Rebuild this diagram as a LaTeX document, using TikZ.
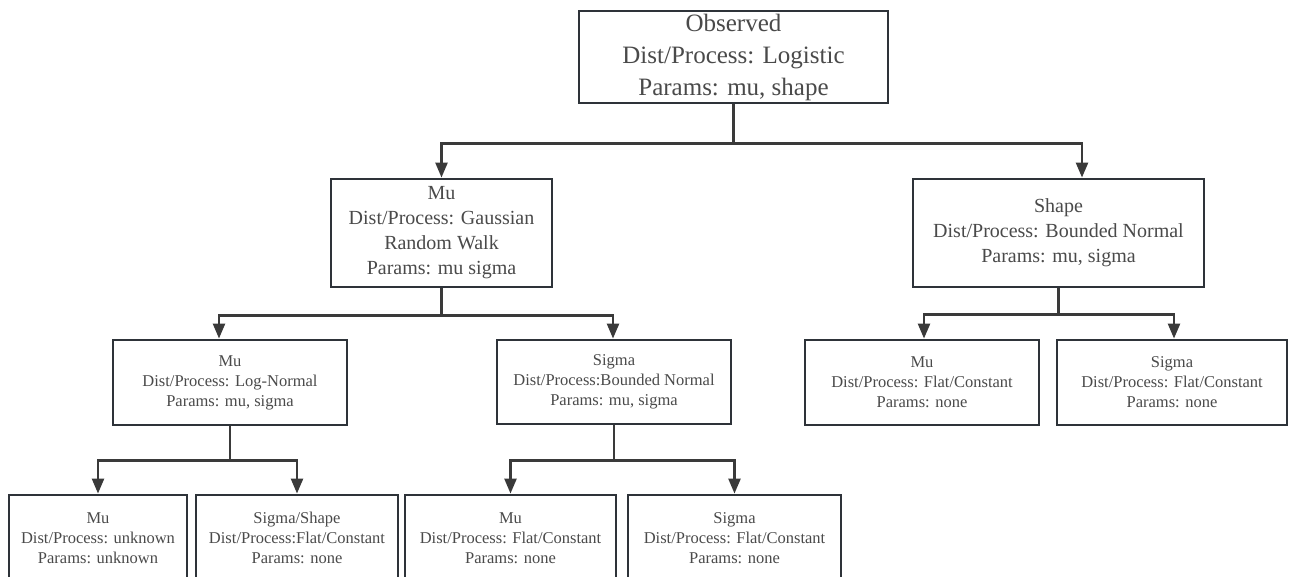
\documentclass[tikz,border=0pt]{standalone}
\usepackage{fontspec}
\setmainfont{Liberation Serif}
\usetikzlibrary{arrows.meta}
\definecolor{bord}{HTML}{2E3339}
\definecolor{txt}{HTML}{4A4A4A}
\definecolor{conn}{HTML}{3A3A3A}
\tikzset{
  box/.style={draw=bord, line width=2.9pt, fill=white, inner sep=0pt, align=center, text=txt},
  fa/.style={box, font=\fontsize{25}{32}\selectfont},
  fb/.style={box, font=\fontsize{20}{25}\selectfont},
  fc/.style={box, font=\fontsize{16.5}{20}\selectfont},
  link/.style={draw=conn, line width=2.5pt, -{Triangle[length=15pt,width=12pt]}}
}
\begin{document}
\begin{tikzpicture}[x=1pt,y=-1pt]
\clip (0,0) rectangle (1290,576);
\fill[white] (0,0) rectangle (1290,576);
\node[fa, minimum width=309, minimum height=92] (root) at (733.5,57) {Observed\\Dist/Process: Logistic\\Params: mu, shape};
\node[fb, minimum width=221, minimum height=108] (mu2) at (441.5,233) {Mu\\Dist/Process: Gaussian\\Random Walk\\Params: mu sigma};
\node[fb, minimum width=291, minimum height=108] (sh2) at (1058.5,233) {Shape\\Dist/Process: Bounded Normal\\Params: mu, sigma};
\node[fc, minimum width=234, minimum height=85] (mu3) at (230,382.5) {Mu\\Dist/Process: Log-Normal\\Params: mu, sigma};
\node[fc, minimum width=234, minimum height=84] (sg3) at (614,382) {Sigma\\Dist/Process:Bounded Normal\\Params: mu, sigma};
\node[fc, minimum width=234, minimum height=85] (mu3r) at (922,382.5) {Mu\\Dist/Process: Flat/Constant\\Params: none};
\node[fc, minimum width=230, minimum height=85] (sg3r) at (1172,382.5) {Sigma\\Dist/Process: Flat/Constant\\Params: none};
\node[fc, minimum width=178, minimum height=86] (mu4) at (98,538) {Mu\\Dist/Process: unknown\\Params: unknown};
\node[fc, minimum width=202, minimum height=86] (ss4) at (297,538) {Sigma/Shape\\Dist/Process:Flat/Constant\\Params: none};
\node[fc, minimum width=211, minimum height=86] (mu4b) at (510.5,538) {Mu\\Dist/Process: Flat/Constant\\Params: none};
\node[fc, minimum width=213, minimum height=86] (sg4b) at (734.5,538) {Sigma\\Dist/Process: Flat/Constant\\Params: none};
% connectors
\draw[link] (root.south) -- ++(0,39) -| (mu2.north);
\draw[link] (root.south) -- ++(0,39) -| ([xshift=23.5pt]sh2.north);
\draw[link] (mu2.south) -- ++(0,27) -| ([xshift=-11pt]mu3.north);
\draw[link] (mu2.south) -- ++(0,27) -| ([xshift=-1pt]sg3.north);
\draw[link] (sh2.south) -- ++(0,26) -| ([xshift=2pt]mu3r.north);
\draw[link] (sh2.south) -- ++(0,26) -| ([xshift=2pt]sg3r.north);
\draw[link] (mu3.south) -- ++(0,34) -| (mu4.north);
\draw[link] (mu3.south) -- ++(0,34) -| (ss4.north);
\draw[link] (sg3.south) -- ++(0,35) -| (mu4b.north);
\draw[link] (sg3.south) -- ++(0,35) -| (sg4b.north);
\end{tikzpicture}
\end{document}
